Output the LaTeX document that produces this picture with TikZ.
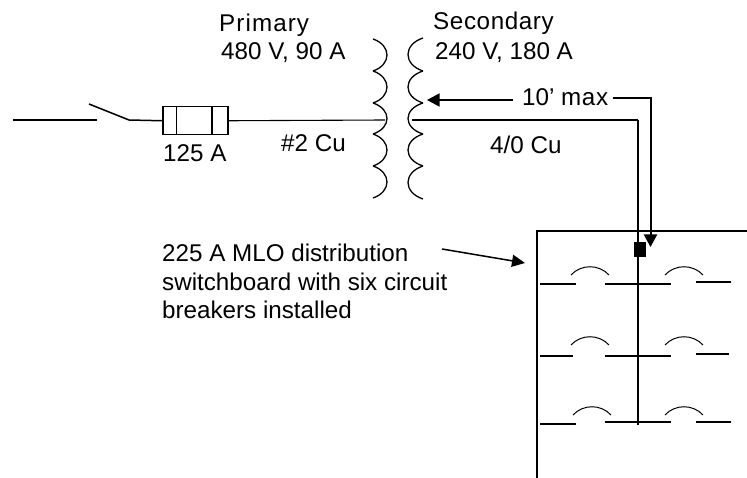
\documentclass[tikz,border=0pt]{standalone}
\usepackage{fontspec}
\setmainfont{Liberation Sans}
\newfontfamily\spaced[LetterSpace=2.5]{Liberation Sans}
\newfontfamily\spacedp[LetterSpace=4.5]{Liberation Sans}
\usetikzlibrary{arrows.meta}
\tikzset{
 x=1pt,y=-1pt,
 lbl/.style={anchor=base west,inner sep=0pt,font=\fontsize{24.2}{26}\selectfont},
 wire/.style={line width=1.5pt,black},
 thick wire/.style={line width=2pt,black},
 fine wire/.style={line width=1.1pt,black},
 tip/.style={-{Triangle[length=12.5pt,width=13pt]}},
 arcline/.style={line width=1pt,black},
}
\newcommand{\coilseg}[4]{% x-cusp, x-bulge, y1, y2
 (#1,#3) .. controls ({#1+1.333*(#2-#1)},{#3+0.2*(#4-#3)}) and ({#1+1.333*(#2-#1)},{#3+0.8*(#4-#3)}) .. (#1,#4)}
\newcommand{\brk}[3]{\draw[arcline] (#1,#3) .. controls (#1+10,#2) and (#1+28,#2) .. (#1+38,#3);}
\begin{document}
\begin{tikzpicture}
\useasboundingbox (0,0) rectangle (747,478);
% coordinates
\coordinate (lineL) at (13,120);
\coordinate (lineLe) at (97,120);
\coordinate (swT) at (89,104);
\coordinate (swB) at (129,120);
\node[draw,line width=1.5pt,minimum width=65pt,minimum height=28pt,inner sep=0pt,anchor=north west] (fuse) at (162,106) {};
\coordinate (priE) at (385,120);
\coordinate (secS) at (412,120);
\coordinate (secC) at (638,120);
\coordinate (busE) at (638,425);
\draw[wire] (lineL)--(lineLe);
\draw[wire] (swT)--(swB)--(fuse.west);
\draw[wire] (176.5,106)--(176.5,134) (212,106)--(212,134);
\draw[fine wire] (fuse.east)--(priE);
\draw[fine wire] (secS)--(secC);
\draw[thick wire] (secC)--(busE);
% coils
\draw[line width=1.3pt] \coilseg{373}{387}{39}{71} \coilseg{373}{387}{71}{103} \coilseg{373}{387}{103}{134} \coilseg{373}{387}{134}{166} \coilseg{373}{387}{166}{198};
\draw[line width=1.3pt] \coilseg{423}{408}{38}{71} \coilseg{423}{408}{71}{103} \coilseg{423}{408}{103}{134} \coilseg{423}{408}{134}{166} \coilseg{423}{408}{166}{199};
% 10' max leaders
\coordinate (tipA) at (427,100);
\coordinate (tipB) at (650.5,247);
\draw[wire,tip] (513,100)--(tipA);
\draw[thick wire,tip] (613,98)--(650.5,98)--(tipB);
% panel
\draw[thick wire] (537,478)--(537,231)--(747,231);
\node[fill=black,inner sep=0pt,minimum width=12pt,minimum height=15pt,anchor=north west] (lug) at (634,242) {};
% breakers
\draw[thick wire] (540,284)--(576,284) (605,284)--(671,284) (696,282)--(731,282);
\draw[thick wire] (540,356)--(573,356) (605,356)--(671,356) (696,354)--(729,354);
\draw[thick wire] (540,424)--(576,424) (605,422)--(671,422) (696,422)--(731,422);
\brk{571}{264}{275} \brk{665}{264}{275}
\brk{571}{334}{345} \brk{665}{334}{345}
\brk{573}{404}{415} \brk{665}{404}{415}
% pointer
\coordinate (ptrS) at (442,249);
\coordinate (ptrE) at (525,263);
\draw[wire,-{Triangle[length=13pt,width=12pt]}] (ptrS)--(ptrE);
% labels
\node[lbl] (l1) at (219,32) {\spacedp Primary};
\node[lbl] (l2) at (221,60) {480 V, 90 A};
\node[lbl] (l3) at (163,162) {125 A};
\node[lbl] (l4) at (281,152) {\#2 Cu};
\node[lbl] (l5) at (433,30) {\spaced Secondary};
\node[lbl] (l6) at (435,60) {240 V, 180 A};
\node[lbl] (l7) at (522,106) {10’ \spaced max};
\node[lbl] (l8) at (490,154) {4/0 Cu};
\node[lbl] (l9) at (162,262) {225 A MLO distribution};
\node[lbl] (l10) at (162,291) {switchboard with six circuit};
\node[lbl] (l11) at (162,319) {breakers installed};
\end{tikzpicture}
\end{document}
